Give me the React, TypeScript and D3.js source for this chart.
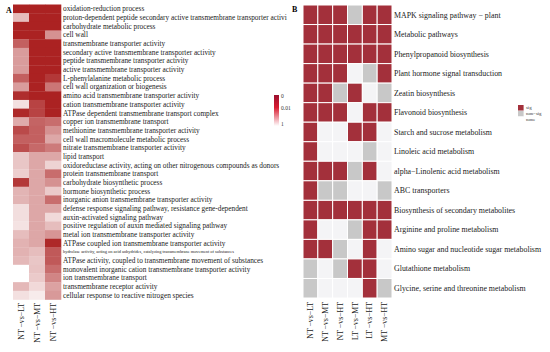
import React from "react";
import * as d3 from "d3";

// ---- panel A: GO terms, shade level per comparison (1 = darkest) ----
const aTerms = [
  "oxidation-reduction process",
  "proton-dependent peptide secondary active transmembrane transporter activi",
  "carbohydrate metabolic process",
  "cell wall",
  "transmembrane transporter activity",
  "secondary active transmembrane transporter activity",
  "peptide transmembrane transporter activity",
  "active transmembrane transporter activity",
  "L-phenylalanine metabolic process",
  "cell wall organization or biogenesis",
  "amino acid transmembrane transporter activity",
  "cation transmembrane transporter activity",
  "ATPase dependent transmembrane transport complex",
  "copper ion transmembrane transport",
  "methionine transmembrane transporter activity",
  "cell wall macromolecule metabolic process",
  "nitrate transmembrane transporter activity",
  "lipid transport",
  "oxidoreductase activity, acting on other nitrogenous compounds as donors",
  "protein transmembrane transport",
  "carbohydrate biosynthetic process",
  "hormone biosynthetic process",
  "inorganic anion transmembrane transporter activity",
  "defense response signaling pathway, resistance gene-dependent",
  "auxin-activated signaling pathway",
  "positive regulation of auxin mediated signaling pathway",
  "metal ion transmembrane transporter activity",
  "ATPase coupled ion transmembrane transporter activity",
  "hydrolase activity, acting on acid anhydrides, catalyzing transmembrane movement of substances",
  "ATPase activity, coupled to transmembrane movement of substances",
  "monovalent inorganic cation transmembrane transporter activity",
  "ion transmembrane transport",
  "transmembrane receptor activity",
  "cellular response to reactive nitrogen species",
];
const aCols = ["NT −vs−LT", "NT −vs−MT", "NT −vs−HT"];
const aLevels = [
  [1, 1, 1],
  [0.3, 1, 1],
  [1, 1, 1],
  [1, 1, 0.5],
  [0.72, 1, 1],
  [0.45, 1, 1],
  [0.45, 1, 1],
  [0.45, 1, 1],
  [0.72, 1, 0.9],
  [0.45, 1, 0.62],
  [0.95, 1, 1],
  [0.14, 0.85, 1],
  [0.97, 0.85, 1],
  [0.38, 0.7, 0.66],
  [0.82, 0.72, 0.5],
  [0.72, 0.72, 0.4],
  [0.8, 0.68, 0.6],
  [0.26, 0.4, 0.4],
  [0.26, 0.4, 0.2],
  [0.22, 0.4, 0.66],
  [0.9, 0.4, 0.5],
  [0.34, 0.4, 0.24],
  [0.34, 0.4, 0.66],
  [0.15, 0.4, 0.4],
  [0.15, 0.4, 0.17],
  [0.13, 0.4, 0.3],
  [0.3, 0.4, 0.48],
  [0.35, 0.4, 0.97],
  [0.35, 0.3, 0.75],
  [0.32, 0.26, 0.75],
  [0, 0.27, 0.66],
  [0, 0.24, 0.55],
  [0.32, 0.17, 0.42],
  [0.14, 0.09, 0.46],
];
const aLegendTicks = ["0", "0.01", "1"];

// ---- panel B: KEGG pathways, s = sig, n = non-sig, o = none ----
const bPathways = [
  "MAPK signaling pathway − plant",
  "Metabolic pathways",
  "Phenylpropanoid biosynthesis",
  "Plant hormone signal transduction",
  "Zeatin biosynthesis",
  "Flavonoid biosynthesis",
  "Starch and sucrose metabolism",
  "Linoleic acid metabolism",
  "alpha−Linolenic acid metabolism",
  "ABC transporters",
  "Biosynthesis of secondary metabolites",
  "Arginine and proline metabolism",
  "Amino sugar and nucleotide sugar metabolism",
  "Glutathione metabolism",
  "Glycine, serine and threonine metabolism",
];
const bCols = ["NT −vs−LT", "NT −vs−MT", "NT −vs−HT", "LT −vs−MT", "LT −vs−HT", "MT −vs−HT"];
const bStatus = [
  "sssnss",
  "ssssss",
  "ssssss",
  "sssons",
  "ssnson",
  "sssoss",
  "soosso",
  "sooono",
  "sssnso",
  "snnoon",
  "ssssss",
  "soonss",
  "ssnoso",
  "nonsso",
  "nooosn",
];
const bLegend = [
  { key: "s", label: "sig" },
  { key: "n", label: "non−sig" },
  { key: "o", label: "none" },
];

const serif = "'Liberation Serif', 'DejaVu Serif', serif";
const darkA = "#ab2222";
const bColors: Record<string, string> = { s: "#a3303b", n: "#c8c8c8", o: "#f4f4f6" };

export default function App() {
  const shade = d3.interpolateRgb("#ffffff", darkA);

  const ax = d3.scaleBand<string>().domain(aCols).range([13, 61]);
  const ay = d3
    .scaleBand<number>()
    .domain(aTerms.map((_, i) => i))
    .range([4.5, 299.5]);

  const bx = d3.scaleBand<string>().domain(bCols).range([303, 392]);
  const by = d3
    .scaleBand<number>()
    .domain(bPathways.map((_, i) => i))
    .range([5, 298]);

  const legY = d3.scaleLinear().domain([0, 1]).range([95, 126]);
  const legTickY = [96, 108, 124];

  return (
    <div style={{ position: "fixed", left: 0, top: 0 }}>
      <svg width={550} height={352} style={{ display: "block", background: "#fff" }} fontFamily={serif}>
        <defs>
          <linearGradient id="legA" x1="0" y1="0" x2="0" y2="1">
            <stop offset="0%" stopColor="#9a0f2e" />
            <stop offset="40%" stopColor="#d81b30" />
            <stop offset="100%" stopColor="#ffffff" />
          </linearGradient>
        </defs>

        {/* panel A */}
        <text x={6} y={13} fontSize={8} fontWeight="bold">A</text>
        {aLevels.map((row, i) =>
          row.map((v, j) => (
            <rect
              key={`a${i}-${j}`}
              x={ax(aCols[j])!}
              y={ay(i)!}
              width={ax.bandwidth() + 0.3}
              height={ay.bandwidth() + 0.3}
              fill={shade(v)}
            />
          ))
        )}
        {aTerms.map((t, i) => (
          <text
            key={`at${i}`}
            x={63}
            y={ay(i)! + ay.bandwidth() / 2}
            dy="0.35em"
            fontSize={i === 28 ? 4.4 : 7.3}
            fill="#222"
          >
            {t}
          </text>
        ))}
        {aCols.map((c) => (
          <text
            key={`ac${c}`}
            transform={`translate(${ax(c)! + ax.bandwidth() / 2},303) rotate(-90)`}
            textAnchor="end"
            dy="0.35em"
            fontSize={7.8}
            fill="#222"
          >
            {c}
          </text>
        ))}
        <rect x={274} y={legY(0)} width={5} height={legY(1) - legY(0)} fill="url(#legA)" />
        {aLegendTicks.map((t, i) => (
          <text key={`lt${t}`} x={281} y={legTickY[i]} dy="0.35em" fontSize={5.5} fill="#333">
            {t}
          </text>
        ))}

        {/* panel B */}
        <text x={292} y={12} fontSize={8} fontWeight="bold">B</text>
        {bStatus.map((row, i) =>
          row.split("").map((s, j) => (
            <rect
              key={`b${i}-${j}`}
              x={bx(bCols[j])!}
              y={by(i)!}
              width={bx.bandwidth()}
              height={by.bandwidth()}
              fill={bColors[s]}
              stroke="#fff"
              strokeWidth={1}
            />
          ))
        )}
        {bPathways.map((p, i) => (
          <text
            key={`bp${i}`}
            x={394}
            y={by(i)! + by.bandwidth() / 2}
            dy="0.35em"
            fontSize={7.9}
            fill="#222"
          >
            {p}
          </text>
        ))}
        {bCols.map((c) => (
          <text
            key={`bc${c}`}
            transform={`translate(${bx(c)! + bx.bandwidth() / 2},302) rotate(-90)`}
            textAnchor="end"
            dy="0.35em"
            fontSize={7.8}
            fill="#222"
          >
            {c}
          </text>
        ))}
        {bLegend.map((l, i) => (
          <g key={`bl${l.key}`} transform={`translate(518,${105 + i * 5.8})`}>
            <rect width={5.6} height={5.6} fill={l.key === "o" ? "#fff" : bColors[l.key]} />
            <text x={8} y={2.8} dy="0.35em" fontSize={4.8} fill="#333">
              {l.label}
            </text>
          </g>
        ))}
      </svg>
    </div>
  );
}
